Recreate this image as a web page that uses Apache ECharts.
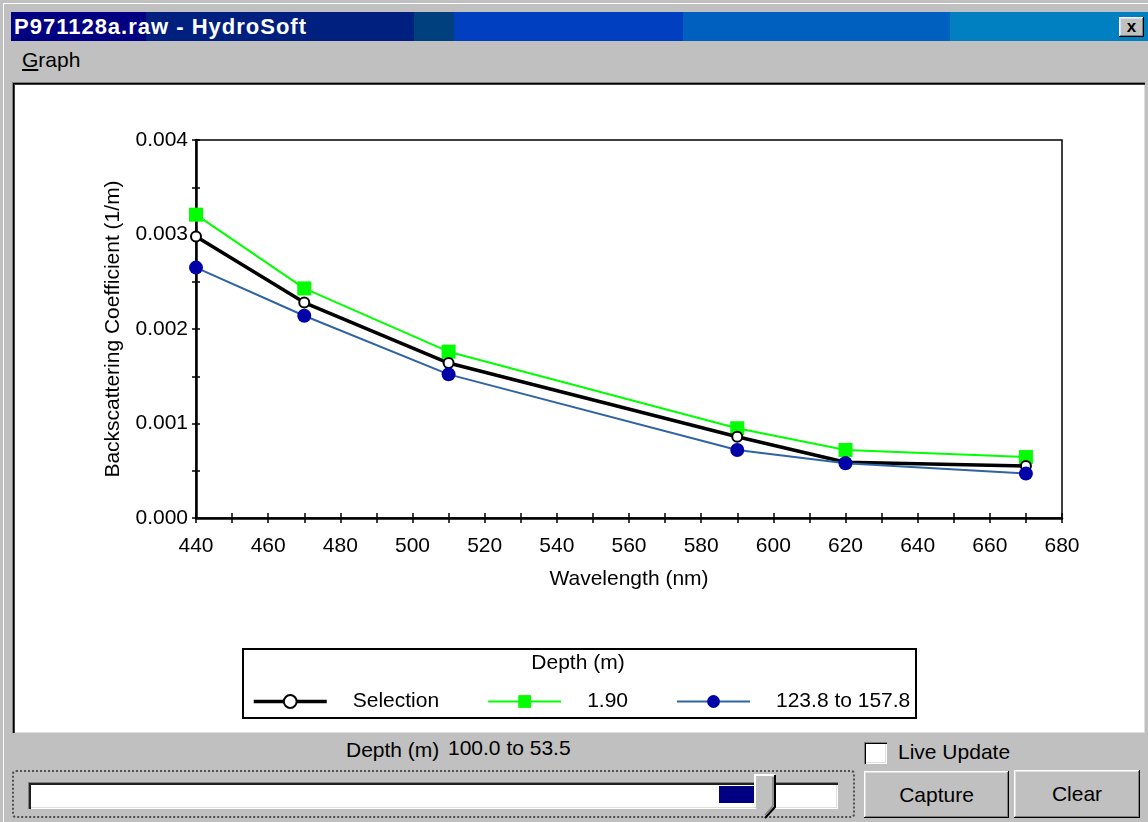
<!DOCTYPE html>
<html>
<head>
<meta charset="utf-8">
<script src="https://cdn.jsdelivr.net/npm/echarts@6/dist/echarts.min.js"></script>
<style>
  html, body { margin:0; padding:0; }
  body { width:1148px; height:822px; background:#C0C0C0; overflow:hidden; position:relative;
         font-family:"Liberation Sans", Arial, sans-serif; }
  .abs { position:absolute; }
  .frame { left:3px; top:3px; width:1145px; height:819px; border-top:1px solid #fff; border-left:1px solid #fff; box-sizing:border-box; }
  .titlebar { left:11px; top:12px; width:1137px; height:29px; background:#000080; overflow:hidden; }
  .seg { position:absolute; top:0; height:29px; }
  .title { left:14px; top:12px; height:29px; line-height:29px; color:#fff; font-weight:bold; font-size:22px; letter-spacing:1px; white-space:nowrap; }
  .btn { background:#C0C0C0; box-sizing:border-box;
         box-shadow: inset -1px -1px 0 #000, inset 1px 1px 0 #fff, inset -2px -2px 0 #808080, inset 2px 2px 0 #dfdfdf; }
  .close { left:1119px; top:17px; width:25px; height:20px; font-weight:bold; font-size:17px; text-align:center; line-height:19px; color:#000; }
  .menu { left:22px; top:48px; font-size:21px; line-height:24px; color:#000; }
  .panel { left:12px; top:82px; width:1133px; height:651px; background:#fff; box-sizing:border-box;
           box-shadow: inset 1px 1px 0 #808080, inset 2px 2px 0 #000, inset 3px 3px 0 #404040, inset -1px -1px 0 #dfdfdf; }
  .txt { font-size:21px; line-height:24px; color:#000; white-space:nowrap; }
  .check { left:864px; top:742px; width:23px; height:22px; background:#fff; box-sizing:border-box;
           box-shadow: inset 1px 1px 0 #808080, inset 2px 2px 0 #000, inset -1px -1px 0 #fff, inset -2px -2px 0 #dfdfdf; }
  .focus { left:12px; top:770px; width:843px; height:48px; box-sizing:border-box; border:2px dotted #505050; border-radius:4px; }
  .track { left:28px; top:782px; width:810px; height:27px; background:#fff; box-sizing:border-box;
           box-shadow: inset 1px 1px 0 #808080, inset 3px 3px 0 #202020, inset -1px -1px 0 #fff, inset -2px -2px 0 #dfdfdf; }
  .sel { left:719px; top:786px; width:36px; height:17px; background:#000080; }
  .bt { font-size:21px; color:#000; text-align:center; }
  #chart { position:absolute; left:0; top:0; width:1148px; height:822px; }
</style>
</head>
<body>
<div class="abs frame"></div>
<div class="abs titlebar">
  <div class="seg" style="left:0;width:135px;background:#000080"></div>
  <div class="seg" style="left:135px;width:268px;background:#00207F"></div>
  <div class="seg" style="left:403px;width:40px;background:#00407F"></div>
  <div class="seg" style="left:443px;width:229px;background:#0040C0"></div>
  <div class="seg" style="left:672px;width:267px;background:#0060C0"></div>
  <div class="seg" style="left:939px;width:198px;background:#0080C0"></div>
</div>
<div class="abs title">P971128a.raw - HydroSoft</div>
<div class="abs btn close">x</div>
<div class="abs menu"><u>G</u>raph</div>
<div class="abs panel"></div>

<div class="abs txt" style="left:346px;top:738px;">Depth (m)</div>
<div class="abs txt" style="left:448px;top:736px;">100.0 to 53.5</div>
<div class="abs check"></div>
<div class="abs txt" style="left:898px;top:740px;">Live Update</div>
<div class="abs focus"></div>
<div class="abs track"></div>
<div class="abs sel"></div>
<svg class="abs" style="left:754px;top:774px;" width="24" height="46">
  <polygon points="1,1 21,1 21,33 11,44 1,33" fill="#C0C0C0" stroke="none"/>
  <polyline points="1,33 1,1 21,1" fill="none" stroke="#fff" stroke-width="2"/>
  <polyline points="21,1 21,33 11,44" fill="none" stroke="#000" stroke-width="2"/>
  <polyline points="19,3 19,32 11,41" fill="none" stroke="#808080" stroke-width="1.5"/>
</svg>
<div class="abs btn bt" style="left:864px;top:771px;width:145px;height:47px;line-height:47px;">Capture</div>
<div class="abs btn bt" style="left:1014px;top:770px;width:126px;height:48px;line-height:48px;">Clear</div>

<div id="chart"></div>
<script>
// ---- data ----
const wavelengths = [440, 470, 510, 590, 620, 670];
const selectionValues = [0.00298, 0.00228, 0.00164, 0.00086, 0.00059, 0.00055];
const depth190Values  = [0.00321, 0.00243, 0.00176, 0.00095, 0.00072, 0.000645];
const depthDeepValues = [0.00265, 0.00214, 0.00152, 0.00072, 0.00058, 0.00047];
const seriesNames = ['Selection', '1.90', '123.8 to 157.8'];
const xTickValues = [440, 460, 480, 500, 520, 540, 560, 580, 600, 620, 640, 660, 680];
const yTickValues = [0.000, 0.001, 0.002, 0.003, 0.004];
const legendTitle = 'Depth (m)';
const xTitle = 'Wavelength (nm)';
const yTitle = 'Backscattering Coefficient (1/m)';

const pairs = vals => wavelengths.map((w, i) => [w, vals[i]]);
const FONT = '"Liberation Sans", Arial, sans-serif';
const FS = 21;

const chart = echarts.init(document.getElementById('chart'), null, { renderer: 'canvas' });

const tickStyle = { color: '#000', width: 1.5 };
const baseX = {
  type: 'value', min: xTickValues[0], max: xTickValues[xTickValues.length - 1], interval: 20,
  position: 'bottom', splitLine: { show: false }
};
const baseY = {
  type: 'value', min: yTickValues[0], max: yTickValues[yTickValues.length - 1], interval: 0.001,
  position: 'left', splitLine: { show: false }
};

const colors = { sel: '#000000', d190: '#00FF00', deepLine: '#2F63A3', deepMark: '#0000A8' };

chart.setOption({
  backgroundColor: 'transparent',
  animation: false,
  grid: { left: 196, right: 86, top: 140, bottom: 304, show: true, borderColor: '#000', borderWidth: 1.5, containLabel: false },
  xAxis: [
    Object.assign({}, baseX, {
      name: xTitle, nameLocation: 'middle', nameGap: 51,
      nameTextStyle: { fontFamily: FONT, fontSize: FS, color: '#000' },
      axisLine: { show: true, lineStyle: { color: '#000', width: 2.5 } },
      axisTick: { show: true, inside: false, length: 5, lineStyle: tickStyle },
      minorTick: { show: true, splitNumber: 2, length: 5, lineStyle: tickStyle },
      axisLabel: { show: true, margin: 18, fontFamily: FONT, fontSize: FS, color: '#000' }
    }),
    Object.assign({}, baseX, {
      axisLine: { show: false },
      axisTick: { show: true, inside: true, length: 5, lineStyle: tickStyle },
      minorTick: { show: true, splitNumber: 2, length: 5, lineStyle: tickStyle },
      axisLabel: { show: false }
    })
  ],
  yAxis: [
    Object.assign({}, baseY, {
      name: yTitle, nameLocation: 'middle', nameGap: 72, nameRotate: 90,
      nameTextStyle: { fontFamily: FONT, fontSize: FS, color: '#000' },
      axisLine: { show: true, lineStyle: { color: '#000', width: 2.5 } },
      axisTick: { show: true, inside: false, length: 4, lineStyle: tickStyle },
      minorTick: { show: true, splitNumber: 2, length: 4, lineStyle: tickStyle },
      axisLabel: { show: true, margin: 8, fontFamily: FONT, fontSize: FS, color: '#000',
                   formatter: v => v.toFixed(3) }
    }),
    Object.assign({}, baseY, {
      axisLine: { show: false },
      axisTick: { show: true, inside: true, length: 4, lineStyle: tickStyle },
      minorTick: { show: true, splitNumber: 2, length: 4, lineStyle: tickStyle },
      axisLabel: { show: false }
    })
  ],
  legend: {
    left: 247, top: 686, orient: 'horizontal',
    itemWidth: 73, itemHeight: 16, itemGap: 48,
    data: [
      { name: seriesNames[0], lineStyle: { color: colors.sel, width: 3.5 } },
      { name: seriesNames[1], lineStyle: { color: colors.d190, width: 2 } },
      { name: seriesNames[2], lineStyle: { color: colors.deepLine, width: 2 } }
    ],
    textStyle: { fontFamily: FONT, fontSize: FS, color: '#000', padding: [0, 0, 0, 21] }
  },
  graphic: [
    { type: 'rect', left: 242, top: 648, z: 0,
      shape: { width: 673, height: 69 },
      style: { fill: '#fff', stroke: '#000', lineWidth: 2 } },
    { type: 'text', x: 578, y: 663, z: 10,
      style: { text: legendTitle, fontFamily: FONT, fontSize: FS, fill: '#000', align: 'center', verticalAlign: 'middle' } }
  ],
  series: [
    { name: seriesNames[1], type: 'line', data: pairs(depth190Values), z: 2,
      symbol: 'rect', symbolSize: 14,
      lineStyle: { color: colors.d190, width: 2 }, itemStyle: { color: colors.d190 } },
    { name: seriesNames[0], type: 'line', data: pairs(selectionValues), z: 3,
      symbol: 'emptyCircle', symbolSize: 10,
      lineStyle: { color: colors.sel, width: 3.5 }, itemStyle: { color: colors.sel, borderWidth: 1.5, borderColor: colors.sel } },
    { name: seriesNames[2], type: 'line', data: pairs(depthDeepValues), z: 4,
      symbol: 'circle', symbolSize: 14,
      lineStyle: { color: colors.deepLine, width: 2 }, itemStyle: { color: colors.deepMark } }
  ]
});
</script>
</body>
</html>
